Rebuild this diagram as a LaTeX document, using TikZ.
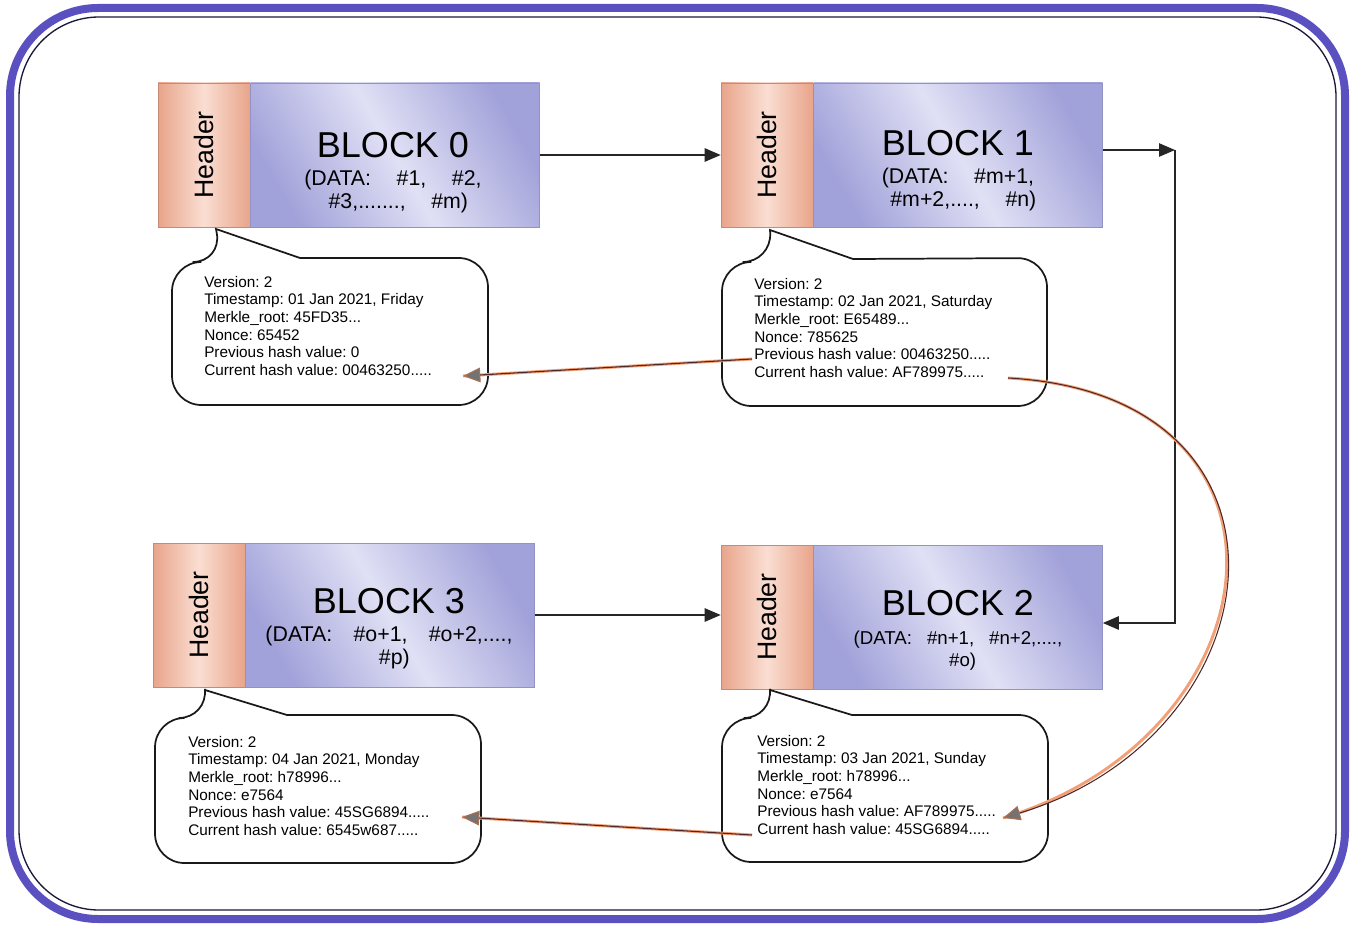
\documentclass[tikz,border=0pt]{standalone}
\usepackage{fontspec}
\setmainfont{Liberation Sans}
\usepackage{tikz}
\usetikzlibrary{positioning,arrows.meta}
\definecolor{framecol}{RGB}{90,80,192}
\definecolor{hdrdark}{RGB}{232,164,138}
\definecolor{hdrlight}{RGB}{250,222,210}
\definecolor{blkdark}{RGB}{162,162,218}
\definecolor{blklight}{RGB}{224,224,245}
\definecolor{hashcol}{RGB}{80,40,36}
\definecolor{glowcol}{RGB}{242,160,120}
\frenchspacing

\begin{document}
\begin{tikzpicture}[x=0.75pt,y=-0.75pt,
	  header/.style={minimum width=69pt,minimum height=108pt,inner sep=0pt,draw=hdrdark!85!black,
	    left color=hdrdark,right color=hdrdark,middle color=hdrlight,font=\fontsize{20}{24}\selectfont},
	  body/.style={minimum width=216.75pt,minimum height=108pt,inner sep=0pt,draw=blkdark!90!black,
	    left color=blkdark,right color=blkdark,middle color=blklight,shading angle=120},
	  blocktext/.style={align=center,anchor=north,inner sep=0pt,font=\fontsize{16}{17.25}\selectfont},
	  link/.style={-{Triangle[length=12pt,width=10pt]},line width=1.1pt,draw=black!85},
	  hash/.style={-{Triangle[length=13pt,width=11pt,fill=black!55,color=glowcol!70!black,line width=0.8pt]},
	    line width=0.8pt,draw=hashcol,preaction={draw=glowcol,line width=2.2pt,-}},
	  bubble/.style={draw=black!90,line width=1.3pt,fill=white}]
	  \tikzstyle{info} = [align=left,anchor=north west,inner sep=0pt,font=\fontsize{11.5}{13.2}\selectfont]
	  \useasboundingbox (0,0) rectangle (1358,930);
	  \draw[framecol,line width=6pt,rounded corners=66pt] (10,8) rectangle (1345,919);
	  \draw[black!70!framecol,line width=1pt,rounded corners=60pt] (19,17) rectangle (1336,910);
	  \node (h_0) [header] at (204,155) {\rotatebox{90}{Header}};
	  \node (b_0) [body,right=0pt of h_0] {};
	  \node (t_0) [blocktext] at (393,132) {{\fontsize{27}{30}\selectfont BLOCK 0}\\[3.75pt](DATA:\hspace{1.2em}\#1,\hspace{1.2em}\#2,\\\hspace{0.5em}\#3,.......,\hspace{1.2em}\#m)};
	  \node (h_1) [header] at (767,155) {\rotatebox{90}{Header}};
	  \node (b_1) [body,right=0pt of h_1] {};
	  \node (t_1) [blocktext] at (958,130) {{\fontsize{27}{30}\selectfont BLOCK 1}\\[3.75pt](DATA:\hspace{1.2em}\#m+1,\hspace{0.4em}\\\hspace{0.5em}\#m+2,....,\hspace{1.2em}\#n)};
	  \node (h_2) [header] at (767,617) {\rotatebox{90}{Header}};
	  \node (b_2) [body,right=0pt of h_2] {};
	  \node (t_2) [blocktext,font=\fontsize{14}{16.5}\selectfont] at (958,590) {{\fontsize{27}{30}\selectfont BLOCK 2}\\[5pt](DATA:\hspace{0.8em}\#n+1,\hspace{0.8em}\#n+2,....,\hspace{0.8em}\\\hspace{0.5em}\#o)};
	  \node (h_3) [header] at (199,615) {\rotatebox{90}{Header}};
	  \node (b_3) [body,right=0pt of h_3] {};
	  \node (t_3) [blocktext] at (389,588) {{\fontsize{27}{30}\selectfont BLOCK 3}\\[3.75pt](DATA:\hspace{1em}\#o+1,\hspace{1em}\#o+2,....,\hspace{0.4em}\\\hspace{0.5em}\#p)};
	  \draw[bubble] (222,262) -- (216,229) -- (300,258) [rounded corners=22pt] -- (488,258) -- (488,405) -- (172,405) -- (172,262) -- cycle;
	  \draw[bubble] (772,262) -- (770,230) -- (853,259) [rounded corners=22pt] -- (1047,258) -- (1047,406) -- (722,406) -- (722,262) -- cycle;
	  \draw[bubble] (773,718) -- (770,690) -- (852,715) [rounded corners=22pt] -- (1048,715) -- (1048,862) -- (722,862) -- (722,718) -- cycle;
	  \draw[bubble] (208,718) -- (205,690) -- (287,715) [rounded corners=22pt] -- (481,715) -- (481,863) -- (155,863) -- (155,718) -- cycle;
	  \node (i_0) [info] at (204,276) {Version: 2\\Timestamp: 01 Jan 2021, Friday\\Merkle\_root: 45FD35...\\Nonce: 65452\\Previous hash value: 0\\Current hash value: 00463250.....};
	  \node (i_1) [info] at (754,278) {Version: 2\\Timestamp: 02 Jan 2021, Saturday\\Merkle\_root: E65489...\\Nonce: 785625\\Previous hash value: 00463250.....\\Current hash value: AF789975.....};
	  \node (i_2) [info] at (757,735) {Version: 2\\Timestamp: 03 Jan 2021, Sunday\\Merkle\_root: h78996...\\Nonce: e7564\\Previous hash value: AF789975.....\\Current hash value: 45SG6894.....};
	  \node (i_3) [info] at (188,736) {Version: 2\\Timestamp: 04 Jan 2021, Monday\\Merkle\_root: h78996...\\Nonce: e7564\\Previous hash value: 45SG6894.....\\Current hash value: 6545w687.....};
	  \coordinate (k_1) at (1175,150);
	  \coordinate (k_2) at (1175,623);
	  \draw[link] (b_0.east) -- (b_0.east -| h_1.west);
	  \draw[link] (b_1.east |- k_1) -- (k_1);
	  \draw[link] (k_1) -- (k_2) -- (k_2 -| b_2.east);
	  \draw[link] (b_3.east) -- (b_3.east -| h_2.west);
	  \coordinate (p_1) at (752,359);
	  \coordinate (q_0) at (463,376);
	  \coordinate (c_1) at (1008,378);
	  \coordinate (p_2) at (1003,818);
	  \coordinate (c_2) at (752,835);
	  \coordinate (q_3) at (462,817);
	  \draw[hash] (p_1) -- (q_0);
	  \draw[hash] (c_1) .. controls (1320,395) and (1280,735) .. (p_2);
	  \draw[hash] (c_2) -- (q_3);
\end{tikzpicture}
\end{document}
